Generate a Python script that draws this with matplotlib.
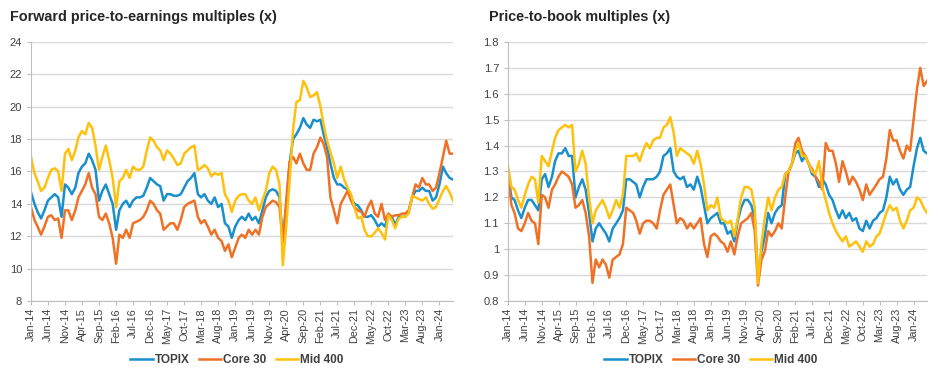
import numpy as np
import pandas as pd
import matplotlib
matplotlib.use("Agg")
import matplotlib.pyplot as plt
import matplotlib.ticker as mticker

plt.rcParams['font.family'] = ['Liberation Sans', 'DejaVu Sans']

# monthly readings, Jan-14 .. May-24
months = pd.date_range('2014-01-01', periods=125, freq='MS')
series_names = ['TOPIX', 'Core 30', 'Mid 400']

# forward P/E (x)
pe_topix = [14.7, 14.0, 13.5, 13.1, 13.6, 14.2, 14.4, 14.6, 14.4, 13.2, 15.2, 15.0, 14.6, 15.0, 15.9,
            16.3, 16.5, 17.1, 16.7, 16.1, 14.2, 14.8, 15.2, 14.6, 14.0, 12.4, 13.6, 14.0, 14.2, 13.8,
            14.2, 14.4, 14.4, 14.5, 15.0, 15.6, 15.4, 15.2, 15.1, 14.2, 14.6, 14.6, 14.5,
            14.5, 14.6, 15.0, 15.4, 15.6, 15.9, 14.6, 14.4, 14.6, 14.2, 14.0, 14.4, 13.8, 14.0, 12.8,
            12.6, 11.9, 12.6, 13.0, 13.2, 13.0, 13.4, 13.0, 13.2, 12.8, 13.6, 14.4, 14.8, 14.9, 14.8,
            14.4, 11.8, 13.8, 16.5, 18.0, 18.3, 18.7, 19.3,
            18.9, 18.7, 19.2, 19.1, 19.2, 18.3, 17.5, 16.5, 15.6, 15.2, 15.2, 15.0, 14.9, 14.4, 14.0,
            13.9, 13.6, 13.2, 13.2, 13.3, 13.0, 12.6, 12.8, 12.6, 13.3, 13.2, 12.7, 13.2, 13.2, 13.2,
            13.5, 14.4, 14.8, 14.8, 15.0, 14.8, 14.8, 14.2, 14.4, 15.2, 16.3, 15.9, 15.6, 15.5]
pe_core30 = [13.8, 13.0, 12.6, 12.1, 12.6, 13.2, 13.3, 13.0, 13.1, 11.9, 13.6, 13.6, 13.0, 13.6, 14.4,
             14.8, 15.2, 15.9, 15.0, 14.6, 13.2, 13.0, 13.4, 12.8, 11.9, 10.3, 12.1, 11.9, 12.4, 11.9,
             12.8, 12.9, 13.0, 13.2, 13.6, 14.2, 14.0, 13.6, 13.4, 12.4, 12.6, 12.8, 12.8,
             12.4, 13.0, 13.8, 14.0, 14.1, 14.2, 13.2, 12.8, 13.0, 12.6, 12.1, 12.4, 11.9, 11.7, 11.1,
             11.5, 10.7, 11.3, 11.9, 12.1, 11.9, 12.4, 12.1, 12.4, 12.1, 13.2, 13.8, 14.0, 14.2, 14.1,
             13.8, 11.6, 14.2, 16.6, 16.9, 16.5, 17.1, 16.5,
             16.1, 16.1, 17.1, 17.5, 18.1, 17.7, 16.9, 14.4, 13.6, 12.8, 14.0, 14.4, 14.8, 14.2, 13.8,
             13.6, 13.5, 13.2, 13.8, 14.2, 13.4, 13.2, 14.0, 13.0, 13.4, 13.2, 13.3, 13.3, 13.4, 13.4,
             13.6, 14.4, 15.2, 15.0, 15.6, 15.2, 15.2, 14.8, 15.0, 15.9, 16.9, 17.9, 17.1, 17.1]
pe_mid400 = [16.9, 15.9, 15.4, 14.8, 15.0, 15.6, 16.1, 16.2, 16.0, 14.8, 17.1, 17.4, 16.7, 17.3, 18.1,
             18.5, 18.3, 19.0, 18.7, 17.6, 16.1, 16.9, 17.6, 16.7, 15.6, 13.8, 15.4, 15.6, 16.1, 15.6,
             16.3, 16.1, 16.1, 16.3, 17.3, 18.1, 17.9, 17.5, 17.3, 16.7, 17.3, 17.1, 16.8,
             16.4, 16.5, 17.1, 17.3, 17.5, 17.6, 16.1, 16.2, 16.4, 16.2, 15.7, 15.9, 15.8, 15.9, 14.6,
             14.2, 13.5, 14.2, 14.5, 14.6, 14.6, 14.2, 14.0, 14.4, 13.6, 14.2, 14.8, 15.9, 16.3, 16.1,
             15.2, 10.2, 12.6, 15.4, 18.6, 20.3, 20.4, 21.6, 21.2, 20.6, 20.7,
             20.9, 20.0, 18.9, 17.9, 17.2, 16.5, 15.6, 16.3, 15.5, 15.0, 14.6, 13.8, 13.1, 13.2, 12.4,
             12.0, 12.0, 12.2, 12.5, 12.2, 11.8, 13.3, 13.0, 12.5, 13.1, 13.2, 13.2, 13.4, 14.5, 14.4,
             14.3, 14.2, 14.4, 14.0, 13.7, 13.8, 14.3, 14.8, 15.1, 14.7, 14.2]

# price-to-book (x)
pb_topix = [1.29, 1.20, 1.19, 1.15, 1.12, 1.16, 1.19, 1.19, 1.17, 1.15, 1.27, 1.29, 1.24, 1.28, 1.34,
            1.37, 1.37, 1.39, 1.36, 1.36, 1.20, 1.24, 1.27, 1.23, 1.14, 1.03, 1.08, 1.10, 1.08, 1.06,
            1.03, 1.08, 1.10, 1.12, 1.15, 1.27, 1.27,
            1.26, 1.25, 1.20, 1.24, 1.27, 1.27, 1.27, 1.28, 1.30, 1.36, 1.37, 1.39, 1.30, 1.28, 1.27,
            1.28, 1.24, 1.25, 1.23, 1.28, 1.24, 1.17, 1.10, 1.12, 1.13, 1.14, 1.10, 1.10, 1.06, 1.07,
            1.03, 1.11, 1.16, 1.19, 1.19, 1.17, 1.12, 0.90, 0.99, 1.05, 1.14, 1.10, 1.14, 1.16,
            1.17, 1.29, 1.30, 1.33, 1.37, 1.38, 1.34, 1.36, 1.33, 1.29, 1.28, 1.24, 1.27, 1.25, 1.21,
            1.19, 1.15, 1.12, 1.15, 1.12, 1.14, 1.11, 1.12, 1.08, 1.07, 1.11, 1.08, 1.11, 1.12, 1.14,
            1.15, 1.20, 1.28, 1.25, 1.27, 1.23, 1.21, 1.23, 1.24, 1.32, 1.39, 1.43, 1.38, 1.37]
pb_core30 = [1.28, 1.17, 1.14, 1.08, 1.07, 1.10, 1.14, 1.11, 1.10, 1.02, 1.21, 1.20, 1.16, 1.23, 1.25,
             1.28, 1.30, 1.29, 1.28, 1.25, 1.16, 1.17, 1.19, 1.14, 1.05, 0.87, 0.96, 0.93, 0.96, 0.94,
             0.89, 0.96, 0.97, 0.98, 1.02, 1.16, 1.15,
             1.14, 1.11, 1.06, 1.10, 1.11, 1.11, 1.10, 1.08, 1.15, 1.21, 1.23, 1.25, 1.17, 1.10, 1.12,
             1.11, 1.08, 1.10, 1.08, 1.10, 1.12, 1.02, 0.97, 1.05, 1.06, 1.05, 1.03, 1.02, 0.99, 1.03,
             0.98, 1.05, 1.10, 1.11, 1.12, 1.14, 1.07, 0.86, 0.96, 0.99, 1.07, 1.05, 1.07, 1.10,
             1.08, 1.20, 1.30, 1.33, 1.41, 1.43, 1.38, 1.36, 1.33, 1.31, 1.28, 1.26, 1.23, 1.41, 1.38,
             1.38, 1.33, 1.26, 1.34, 1.30, 1.25, 1.28, 1.26, 1.23, 1.19, 1.25, 1.21, 1.23, 1.25, 1.27,
             1.28, 1.35, 1.46, 1.42, 1.42, 1.38, 1.35, 1.40, 1.38, 1.50, 1.62, 1.70, 1.63, 1.65]
pb_mid400 = [1.32, 1.24, 1.23, 1.19, 1.16, 1.21, 1.25, 1.28, 1.27, 1.18, 1.36, 1.34, 1.32, 1.38, 1.43,
             1.46, 1.47, 1.48, 1.47, 1.48, 1.30, 1.33, 1.38, 1.33, 1.20, 1.10, 1.15, 1.17, 1.19, 1.16,
             1.12, 1.15, 1.19, 1.16, 1.21, 1.36, 1.36,
             1.36, 1.37, 1.34, 1.38, 1.41, 1.39, 1.42, 1.43, 1.43, 1.47, 1.48, 1.51, 1.45, 1.36, 1.39,
             1.38, 1.37, 1.36, 1.33, 1.38, 1.33, 1.25, 1.15, 1.17, 1.16, 1.20, 1.12, 1.11, 1.10, 1.11,
             1.05, 1.12, 1.20, 1.24, 1.24, 1.23, 1.16, 0.87, 1.02, 1.12, 1.20, 1.15, 1.20, 1.23,
             1.24, 1.29, 1.30, 1.33, 1.38, 1.41, 1.36, 1.36, 1.33, 1.30, 1.29, 1.34, 1.24, 1.19, 1.14,
             1.10, 1.07, 1.05, 1.03, 1.05, 1.01, 1.02, 1.03, 1.01, 0.99, 1.03, 1.01, 1.02, 1.05, 1.06,
             1.10, 1.14, 1.17, 1.15, 1.16, 1.11, 1.08, 1.11, 1.15, 1.16, 1.20, 1.19, 1.16, 1.14]

colors = ['#1a8fcd', '#ee7125', '#fec10e']
grid_c = '#d9d9d9'
text_c = '#404040'

fig = plt.figure(figsize=(9.39, 3.72), dpi=100)
ax1 = fig.add_axes([31 / 939, 71 / 372, 422 / 939, 259 / 372])
ax2 = fig.add_axes([508 / 939, 71 / 372, 419 / 939, 259 / 372])


def style(ax, title, ylim, ystep, title_x, leg_x):
    ax.set_xlim(months[0], months[-1])
    ax.set_ylim(*ylim)
    ax.yaxis.set_major_locator(mticker.MultipleLocator(ystep))
    ax.yaxis.set_major_formatter(mticker.FuncFormatter(lambda v, p: f'{round(v, 2):g}'))
    ax.set_xticks(months[::5])
    ax.set_xticklabels([d.strftime('%b-%y') for d in months[::5]], rotation=90)
    ax.grid(axis='y', color=grid_c, linewidth=1)
    ax.set_axisbelow(True)
    for s in ['top', 'right']:
        ax.spines[s].set_visible(False)
    for s in ['left', 'bottom']:
        ax.spines[s].set_color('#bfbfbf')
    ax.tick_params(axis='both', colors='#bfbfbf', labelcolor=text_c, labelsize=8, length=3)
    ax.tick_params(axis='x', labelsize=7.8, pad=2)
    ax.set_title(title, loc='left', fontsize=10.4, fontweight='bold', color='#262626',
                 x=title_x, y=1.05)
    leg = ax.legend(loc='upper center', bbox_to_anchor=(leg_x, -0.165), ncol=3, frameon=False,
                    handlelength=1.9, columnspacing=0.8, handletextpad=0.15,
                    prop={'weight': 'bold', 'size': 8.5})
    for t in leg.get_texts():
        t.set_color(text_c)


for vals, name, c in zip([pe_topix, pe_core30, pe_mid400], series_names, colors):
    ax1.plot(months, vals, color=c, linewidth=1.8, label=name)
for vals, name, c in zip([pb_topix, pb_core30, pb_mid400], series_names, colors):
    ax2.plot(months, vals, color=c, linewidth=1.8, label=name)

style(ax1, 'Forward price-to-earnings multiples (x)', (8, 24), 2, -0.05, 0.488)
style(ax2, 'Price-to-book multiples (x)', (0.8, 1.8), 0.1, -0.045, 0.484)

fig.savefig('out.png', dpi=100)
